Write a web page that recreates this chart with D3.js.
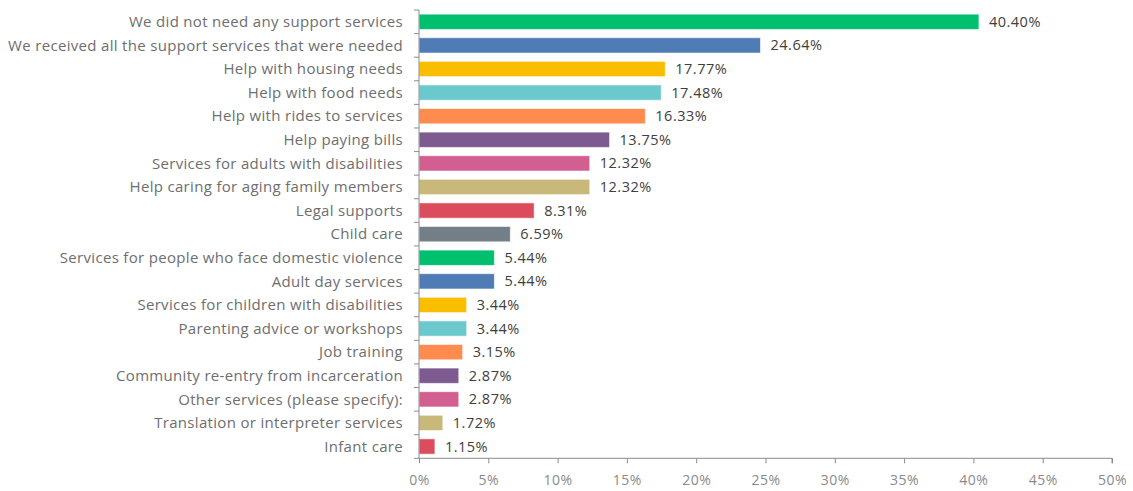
<!DOCTYPE html>
<html>
<head>
<meta charset="utf-8">
<script src="https://cdn.jsdelivr.net/npm/d3@7"></script>
<style>
  html, body { margin: 0; padding: 0; background: #fff; }
  svg { display: block; }
</style>
</head>
<body>
<svg id="chart" width="1133" height="491"></svg>
<script>
// Survey responses: support services needed / received
const categories = [
  "We did not need any support services",
  "We received all the support services that were needed",
  "Help with housing needs",
  "Help with food needs",
  "Help with rides to services",
  "Help paying bills",
  "Services for adults with disabilities",
  "Help caring for aging family members",
  "Legal supports",
  "Child care",
  "Services for people who face domestic violence",
  "Adult day services",
  "Services for children with disabilities",
  "Parenting advice or workshops",
  "Job training",
  "Community re-entry from incarceration",
  "Other services (please specify):",
  "Translation or interpreter services",
  "Infant care"
];
const values = [40.40, 24.64, 17.77, 17.48, 16.33, 13.75, 12.32, 12.32, 8.31, 6.59,
                5.44, 5.44, 3.44, 3.44, 3.15, 2.87, 2.87, 1.72, 1.15];
const palette = ["#00BF6F", "#507CB6", "#F9BE00", "#6BC8CD", "#FF8B4F",
                 "#7D5B91", "#D25F90", "#C8B87A", "#DB4D5C", "#747E87"];
const xTicks = [0, 5, 10, 15, 20, 25, 30, 35, 40, 45, 50];

const svg = d3.select("#chart");
const font = "'Open Sans', Lato, sans-serif";

const x = d3.scaleLinear().domain([0, 50]).range([419, 1112]);
const y = d3.scaleBand().domain(categories).range([10, 458.3]).paddingInner(0.35).paddingOuter(0.175);

// bars
svg.append("g").selectAll("rect")
  .data(values)
  .join("rect")
  .attr("x", x(0))
  .attr("y", (d, i) => y(categories[i]))
  .attr("width", d => x(d) - x(0))
  .attr("height", y.bandwidth())
  .attr("fill", (d, i) => palette[i % palette.length])
  .attr("stroke", "#ffffff")
  .attr("stroke-opacity", 0.6)
  .attr("stroke-width", 1);

// value labels
svg.append("g").selectAll("text")
  .data(values)
  .join("text")
  .attr("x", d => x(d) + 10)
  .attr("y", (d, i) => y(categories[i]) + y.bandwidth() / 2)
  .attr("dy", "0.35em")
  .attr("font-family", font)
  .attr("font-size", 14.5)
  .attr("letter-spacing", "0.5px")
  .attr("fill", "#404040")
  .text(d => d.toFixed(2) + "%");

// y axis (category boundaries as ticks)
const yAxisG = svg.append("g").attr("transform", `translate(${x(0)},0)`);
yAxisG.append("line")
  .attr("x1", 0).attr("x2", 0)
  .attr("y1", 10).attr("y2", 458.3)
  .attr("stroke", "#8c8c8c").attr("stroke-width", 1);
const step = y.step();
yAxisG.selectAll("line.tick")
  .data(d3.range(categories.length + 1))
  .join("line")
  .attr("class", "tick")
  .attr("x1", -5).attr("x2", 0)
  .attr("y1", i => 10 + i * step)
  .attr("y2", i => 10 + i * step)
  .attr("stroke", "#8c8c8c");
yAxisG.selectAll("text")
  .data(categories)
  .join("text")
  .attr("x", -16)
  .attr("y", d => y(d) + y.bandwidth() / 2)
  .attr("dy", "0.35em")
  .attr("text-anchor", "end")
  .attr("font-family", font)
  .attr("font-size", 15)
  .attr("letter-spacing", "0.32px")
  .attr("fill", "#6e6e6e")
  .text(d => d);

// x axis
const xAxis = d3.axisBottom(x)
  .tickValues(xTicks)
  .tickSize(5)
  .tickPadding(12)
  .tickFormat(d => d + "%");
const xg = svg.append("g")
  .attr("transform", "translate(0,458.3)")
  .call(xAxis);
xg.select(".domain").attr("stroke", "#8c8c8c").attr("d", `M${x(0)},0H${x(50)}V5`);
xg.selectAll(".tick line").attr("stroke", "#8c8c8c");
xg.selectAll(".tick text")
  .attr("font-family", font)
  .attr("font-size", 14)
  .attr("letter-spacing", "0.5px")
  .attr("fill", "#8a8a8a");
</script>
</body>
</html>
